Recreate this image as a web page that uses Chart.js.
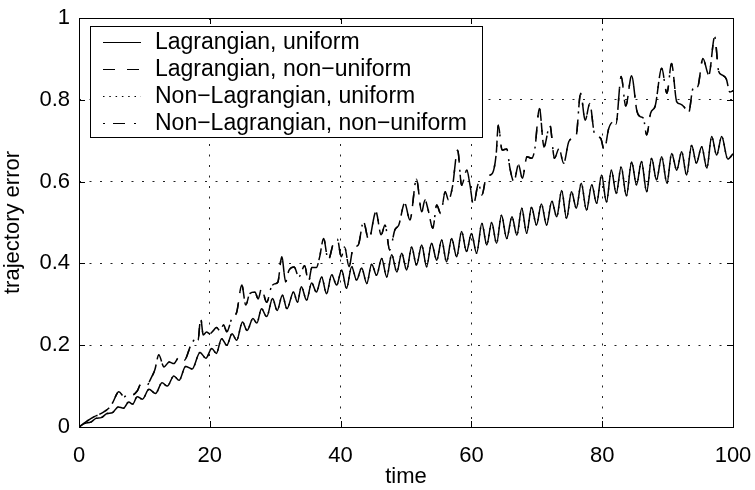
<!DOCTYPE html>
<html>
<head>
<meta charset="utf-8">
<script src="https://cdn.jsdelivr.net/npm/chart.js@4.4.0/dist/chart.umd.min.js"></script>
<style>
  html, body { margin: 0; padding: 0; background: #fff; }
  canvas { display: block; }
</style>
</head>
<body>
<canvas id="chart" width="755" height="490"></canvas>
<script>
// trajectory error vs time, uniform and non-uniform grids
const seriesNames = [
  'Lagrangian, uniform',
  'Lagrangian, non\u2212uniform',
  'Non\u2212Lagrangian, uniform',
  'Non\u2212Lagrangian, non\u2212uniform'
];

const xTicks = [0, 20, 40, 60, 80, 100];
const yTicks = [0, 0.2, 0.4, 0.6, 0.8, 1];

// uniform grid: regular oscillation around a steady rise
const uniformT = [
  0, 0.9, 1.8, 2.6, 3.4, 4.3, 5.1, 6.0, 6.8, 7.6, 8.2, 8.9, 9.7, 10.7, 11.7, 12.7,
  13.5, 14.5, 15.3, 16.3, 17.3, 18.5, 19.4, 20.3, 21.0, 21.8, 22.6, 23.4, 24.1, 25.0,
  25.7, 26.6, 27.2, 27.9, 28.7, 29.6, 30.3, 31.1, 31.8, 32.8, 33.4, 34.0, 34.8, 35.57,
  36.3, 37.1, 37.85, 38.63, 39.4, 40.16, 40.9, 41.69, 42.45, 43.22, 44.0, 44.75, 45.5,
  46.28, 47.05, 47.81, 48.6, 49.34, 50.1, 50.87, 51.6, 52.4, 53.15, 53.9, 54.7, 55.45,
  56.2, 56.98, 57.75, 58.5, 59.25, 60.0, 60.8, 61.6, 62.35, 63.1, 63.85, 64.6, 65.4,
  66.2, 66.95, 67.7, 68.45, 69.2, 69.95, 70.7, 71.5, 72.3, 73.05, 73.8, 74.55, 75.3,
  76.05, 76.8, 77.6, 78.4, 79.15, 79.9, 80.65, 81.4, 82.15, 82.9, 83.7, 84.5, 85.25,
  86.0, 86.8, 87.56, 88.3, 89.09, 89.9, 90.62, 91.4, 92.15, 92.9, 93.68, 94.4, 95.21,
  96.0, 96.74, 97.5, 98.27, 99.2, 100
];
const uniformErr = [
  0, 0.009, 0.012, 0.021, 0.023, 0.033, 0.035, 0.049, 0.046, 0.061, 0.056, 0.074, 0.068, 0.092, 0.082, 0.108,
  0.100, 0.125, 0.114, 0.148, 0.142, 0.182, 0.168, 0.192, 0.180, 0.216, 0.200, 0.228, 0.212, 0.257,
  0.236, 0.265, 0.254, 0.289, 0.270, 0.314, 0.285, 0.322, 0.289, 0.330, 0.305, 0.343, 0.310, 0.352,
  0.330, 0.367, 0.326, 0.372, 0.347, 0.384, 0.339, 0.392, 0.359, 0.389, 0.351, 0.398, 0.371,
  0.412, 0.367, 0.421, 0.379, 0.425, 0.384, 0.440, 0.396, 0.445, 0.392, 0.449, 0.408, 0.457,
  0.404, 0.461, 0.416, 0.478, 0.429, 0.473, 0.425, 0.498, 0.445, 0.500, 0.449, 0.518, 0.461,
  0.514, 0.469, 0.535, 0.474, 0.537, 0.494, 0.545, 0.494, 0.552, 0.514, 0.578, 0.510, 0.575,
  0.535, 0.596, 0.530, 0.592, 0.547, 0.616, 0.550, 0.628, 0.571, 0.636, 0.565, 0.648, 0.592,
  0.649, 0.575, 0.657, 0.604, 0.661, 0.596, 0.669, 0.628, 0.673, 0.616, 0.689, 0.645, 0.685,
  0.633, 0.710, 0.665, 0.710, 0.655, 0.668
];

// non-uniform grid: irregular bursts on top of a faster rise
const nonUniformT = [
  0, 1.0, 2.3, 3.0, 3.8, 4.5, 5.1, 6.1, 6.9, 7.5, 8.1, 8.9, 9.4, 10.2, 11.0, 11.6, 12.2,
  13.0, 13.8, 14.5, 15.3, 16.1, 17.1, 17.7, 18.2, 18.6, 19.0, 19.5, 20.0, 20.5, 21.0, 21.6,
  22.1, 22.6, 23.4, 24.1, 24.9, 25.5, 26.1, 26.9, 27.4, 27.9, 28.7, 29.4, 29.9, 30.4, 31.0,
  31.6, 32.1, 32.9, 33.6, 34.5, 35.1, 35.6, 36.3, 36.8, 37.4, 38.1, 38.9, 39.5, 40.1, 40.6,
  41.3, 41.9, 42.7, 43.5, 44.3, 45.4, 46.2, 46.8, 47.5, 48.3, 48.9, 49.8, 50.6, 51.6, 52.4,
  52.9, 53.4, 54.1, 54.7, 55.3, 56.0, 56.5, 57.1, 57.9, 58.5, 59.3, 59.8, 60.3, 61.1, 61.6,
  62.3, 63.2, 63.8, 64.1, 64.7, 65.4, 65.9, 66.5, 67.2, 67.8, 68.5, 69.2, 69.7, 70.4, 71.1,
  72.0, 72.7, 73.4, 74.1, 74.9, 75.5, 76.0, 76.7, 77.4, 78.1, 78.8, 79.3, 79.8, 80.3, 81.0,
  81.6, 82.1, 82.9, 83.6, 84.5, 85.3, 85.8, 86.3, 86.8, 87.4, 88.1, 89.1, 89.9, 90.6, 91.4,
  91.9, 92.5, 93.2, 93.9, 94.6, 95.4, 96.3, 97.2, 97.8, 98.3, 99.0, 99.5, 100
];
const nonUniformErr = [
  0, 0.012, 0.025, 0.030, 0.037, 0.045, 0.058, 0.086, 0.074, 0.079, 0.078, 0.088, 0.103, 0.098, 0.119, 0.140, 0.176,
  0.147, 0.159, 0.155, 0.171, 0.163, 0.200, 0.213, 0.212, 0.266, 0.225, 0.232, 0.228, 0.235, 0.243, 0.235,
  0.250, 0.233, 0.267, 0.280, 0.347, 0.298, 0.326, 0.330, 0.313, 0.338, 0.305, 0.342, 0.350, 0.354, 0.416,
  0.355, 0.383, 0.391, 0.367, 0.394, 0.355, 0.390, 0.390, 0.416, 0.461, 0.408, 0.449, 0.459, 0.416, 0.440,
  0.392, 0.437, 0.445, 0.502, 0.457, 0.526, 0.470, 0.494, 0.433, 0.482, 0.494, 0.547, 0.506, 0.606, 0.526,
  0.555, 0.530, 0.486, 0.543, 0.522, 0.575, 0.555, 0.587, 0.677, 0.591, 0.628, 0.590, 0.543, 0.595, 0.567,
  0.612, 0.620, 0.669, 0.738, 0.677, 0.680, 0.632, 0.600, 0.641, 0.608, 0.661, 0.657, 0.680, 0.779, 0.685,
  0.738, 0.657, 0.681, 0.645, 0.698, 0.705, 0.710, 0.816, 0.750, 0.791, 0.718, 0.710, 0.705, 0.677, 0.730,
  0.745, 0.740, 0.857, 0.785, 0.859, 0.773, 0.759, 0.755, 0.714, 0.767, 0.785, 0.877, 0.816, 0.889, 0.795,
  0.790, 0.783, 0.767, 0.828, 0.832, 0.901, 0.861, 0.954, 0.870, 0.861, 0.850, 0.819, 0.822
];

const toPoints = (ts, vs) => ts.map((t, i) => ({ x: t, y: vs[i] }));

const FONT = "'Liberation Sans', Arial, Helvetica, sans-serif";
Chart.defaults.font.family = FONT;
Chart.defaults.color = '#000';

// axes box with inward tick marks, like a classic plot frame
const frame = {
  id: 'frame',
  afterDraw(chart) {
    const { ctx, chartArea: a, scales } = chart;
    const len = 6;
    ctx.save();
    ctx.strokeStyle = '#000';
    ctx.lineWidth = 1;
    ctx.setLineDash([]);
    ctx.beginPath();
    scales.x.ticks.forEach(t => {
      const px = Math.round(scales.x.getPixelForValue(t.value)) + 0.5;
      ctx.moveTo(px, a.bottom); ctx.lineTo(px, a.bottom - len);
      ctx.moveTo(px, a.top); ctx.lineTo(px, a.top + len);
    });
    scales.y.ticks.forEach(t => {
      const py = Math.round(scales.y.getPixelForValue(t.value)) + 0.5;
      ctx.moveTo(a.left, py); ctx.lineTo(a.left + len, py);
      ctx.moveTo(a.right, py); ctx.lineTo(a.right - len, py);
    });
    ctx.stroke();
    ctx.strokeRect(Math.round(a.left) + 0.5, Math.round(a.top) + 0.5,
      Math.round(a.right - a.left), Math.round(a.bottom - a.top));
    ctx.restore();
  }
};

// boxed legend in the upper left corner of the plot
const boxLegend = {
  id: 'boxLegend',
  afterDraw(chart) {
    const { ctx } = chart;
    const box = { left: 90, top: 26, width: 392, height: 111 };
    const rowH = 27, firstRow = 42, lineX = 103, lineLen = 38, textX = 155;
    ctx.save();
    ctx.fillStyle = '#fff';
    ctx.fillRect(box.left, box.top, box.width, box.height);
    ctx.strokeStyle = '#000';
    ctx.lineWidth = 1;
    ctx.setLineDash([]);
    ctx.strokeRect(box.left + 0.5, box.top + 0.5, box.width, box.height);
    chart.data.datasets.forEach((ds, i) => {
      const y = firstRow + i * rowH + 0.5;
      ctx.beginPath();
      ctx.setLineDash(ds.borderDash || []);
      ctx.lineWidth = 1;
      ctx.moveTo(lineX, y);
      ctx.lineTo(lineX + lineLen, y);
      ctx.stroke();
      ctx.setLineDash([]);
      ctx.fillStyle = '#000';
      ctx.font = '23px ' + FONT;
      ctx.textBaseline = 'middle';
      ctx.fillText(ds.label, textX, y);
    });
    ctx.restore();
  }
};

const lineStyle = {
  borderColor: '#000',
  borderWidth: 1.5,
  pointRadius: 0,
  fill: false,
  cubicInterpolationMode: 'monotone'
};

new Chart(document.getElementById('chart'), {
  type: 'line',
  data: {
    datasets: [
      { ...lineStyle, label: seriesNames[0], data: toPoints(uniformT, uniformErr), borderDash: [] },
      { ...lineStyle, label: seriesNames[1], data: toPoints(nonUniformT, nonUniformErr), borderDash: [12, 12] },
      { ...lineStyle, label: seriesNames[2], data: toPoints(uniformT, uniformErr), borderDash: [1.5, 4.8] },
      { ...lineStyle, label: seriesNames[3], data: toPoints(nonUniformT, nonUniformErr), borderDash: [2, 8, 12, 9] }
    ]
  },
  options: {
    responsive: false,
    animation: false,
    devicePixelRatio: 1,
    layout: { padding: { left: 0, right: 22, top: 18, bottom: 0 } },
    plugins: { legend: { display: false }, tooltip: { enabled: false } },
    scales: {
      x: {
        type: 'linear',
        min: 0,
        max: 100,
        afterFit: s => { s.height = 63; s.paddingLeft = 0; s.paddingRight = 0; },
        afterBuildTicks: s => { s.ticks = xTicks.map(v => ({ value: v })); },
        ticks: { autoSkip: false, maxRotation: 0, padding: 16, font: { size: 22 }, color: '#000', callback: v => String(v) },
        grid: { color: '#222', lineWidth: 1, drawTicks: false },
        border: { display: false, dash: [2, 8.5] },
        title: { display: true, text: 'time', font: { size: 22 }, color: '#000', padding: { top: 0, bottom: 0 } }
      },
      y: {
        type: 'linear',
        min: 0,
        max: 1,
        afterFit: s => { s.width = 79; s.paddingTop = 0; s.paddingBottom = 0; },
        afterBuildTicks: s => { s.ticks = yTicks.map(v => ({ value: v })); },
        ticks: { autoSkip: false, padding: 9, font: { size: 22 }, color: '#000', callback: v => String(v) },
        grid: { color: '#222', lineWidth: 1, drawTicks: false },
        border: { display: false, dash: [2, 8.5] },
        title: { display: true, text: 'trajectory error', font: { size: 22 }, color: '#000', padding: { top: 0, bottom: 0 } }
      }
    }
  },
  plugins: [frame, boxLegend]
});
</script>
</body>
</html>
